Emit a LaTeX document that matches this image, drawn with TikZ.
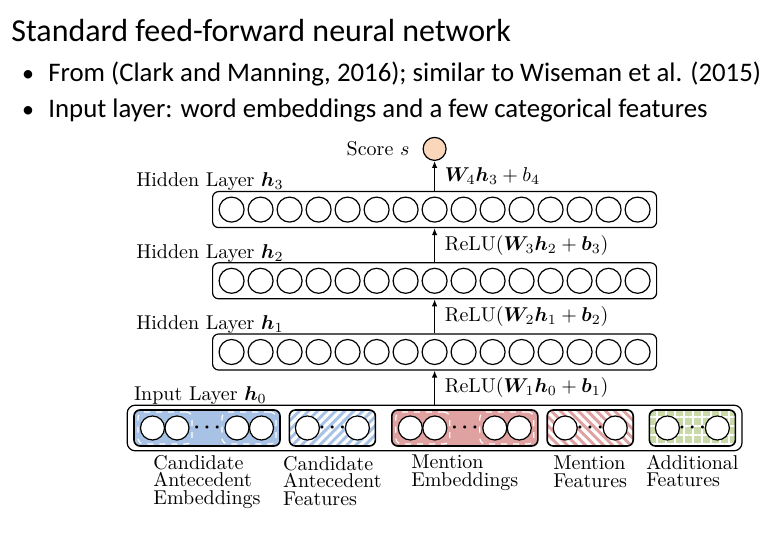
\documentclass[tikz,border=0pt]{standalone}
\usepackage{fontspec}
\usepackage{bm}
\usepackage{xcolor}
\usepackage{tikz}
\newfontfamily\slidefont{Carlito}
\definecolor{candblue}{RGB}{167, 194, 228}
\definecolor{mentred}{RGB}{224, 161, 161}
\definecolor{addgreen}{RGB}{201, 218, 168}
\definecolor{scorepeach}{RGB}{250, 214, 187}
\usetikzlibrary{arrows.meta, positioning, calc, fit, patterns.meta}

\begin{document}
\begin{tikzpicture}[x=0.5pt, y=-0.5pt,
    neuron/.style={draw, circle, line width=0.6pt, fill=white, minimum size=12.5pt, inner sep=0pt},
    inunit/.style={draw, circle, line width=0.6pt, fill=white, minimum size=12pt, inner sep=0pt},
    hiddenbox/.style={draw, rounded corners=3pt, line width=0.6pt, minimum width=222pt, minimum height=18pt, inner sep=0pt},
    inputgroup/.style={draw, rounded corners=3pt, line width=0.8pt, minimum height=18pt, inner sep=0pt},
    embgroup/.style={inputgroup, minimum width=73pt},
    featgroup/.style={inputgroup, minimum width=43pt},
    pairbox/.style={draw=white, dashed, rounded corners=3pt, line width=0.6pt, minimum width=27pt, minimum height=16pt, inner sep=0pt},
    flow/.style={-{Latex[length=3.5pt, width=2.8pt]}, line width=0.6pt},
    layerlabel/.style={anchor=base west, inner sep=0pt},
    grouplabel/.style={align=left, inner sep=0pt, font=\fontsize{10}{8.75}\selectfont},
    slidetitle/.style={anchor=base west, inner sep=0pt, font=\slidefont\fontsize{16}{19}\selectfont},
    slidepoint/.style={anchor=base west, inner sep=0pt, font=\slidefont\fontsize{13.4}{16}\selectfont},
    slidebullet/.style={anchor=base, inner sep=0pt, font=\slidefont\fontsize{12}{16}\selectfont},
  ]
    \useasboundingbox[fill=white] (0,0) rectangle (778,534);

    \node[slidetitle] (title) at (11,42) {Standard feed-forward neural network};
    \node[slidebullet] (bullet1) at (28,82) {\textbullet};
    \node[slidepoint] (point1) at (48,82) {From (Clark and Manning, 2016); similar to Wiseman et al. (2015)};
    \node[slidebullet] (bullet2) at (28,118) {\textbullet};
    \node[slidepoint] (point2) at (48,118) {Input layer: word embeddings and a few categorical features};

    % input groups
    \node[embgroup, fill=candblue] (candemb) at (207,428) {};
    \node[featgroup, right=3.5pt of candemb, preaction={fill=candblue},
          pattern={Lines[angle=45, distance=3.2pt, line width=1.6pt]}, pattern color=white] (candfeat) {};
    \node[embgroup, fill=mentred, right=7pt of candfeat] (mentemb) {};
    \node[featgroup, right=3.5pt of mentemb, preaction={fill=mentred},
          pattern={Lines[angle=-45, distance=3.2pt, line width=1.6pt]}, pattern color=white] (mentfeat) {};
    \node[featgroup, right=7pt of mentfeat, preaction={fill=addgreen},
          pattern={Hatch[angle=0, distance=4.5pt, line width=0.6pt]}, pattern color=white] (addfeat) {};

    \foreach \g in {candemb, mentemb} {
        \foreach \dx in {-21, 21}
            \node[pairbox] at ([xshift=\dx pt]\g.center) {};
        \foreach \dx in {-27.25, -15, 15, 27.25}
            \node[inunit] at ([xshift=\dx pt]\g.center) {};
        \node at (\g.center) {$\bm{\cdots}$};
    }
    \foreach \g in {candfeat, mentfeat, addfeat} {
        \foreach \dx in {-12.5, 12.5}
            \node[inunit] at ([xshift=\dx pt]\g.center) {};
        \node at (\g.center) {$\bm{\cdots}$};
    }

    \node[draw, rounded corners=4pt, line width=0.6pt, inner xsep=3pt, inner ysep=2pt,
          fit=(candemb)(addfeat)] (h0) {};

    % hidden layers
    \node[hiddenbox, above=17pt of h0] (h1) {};
    \node[hiddenbox, above=17pt of h1] (h2) {};
    \node[hiddenbox, above=17pt of h2] (h3) {};
    \foreach \l in {h1, h2, h3}
        \foreach \i in {-7,...,7}
            \node[neuron] at ([xshift={\i*14.5pt}]\l.center) {};

    \node[neuron, minimum size=11.5pt, fill=scorepeach, above=15pt of h3] (score) {};
    \node[left=3pt of score] (scorelabel) {Score $s$};

    \node[layerlabel] (h0label) at ([shift={(3.5pt,2pt)}]h0.north west) {Input Layer $\bm{h}_0$};
    \node[layerlabel] (h1label) at ([shift={(-38pt,2pt)}]h1.north west) {Hidden Layer $\bm{h}_1$};
    \node[layerlabel] (h2label) at ([shift={(-38pt,2pt)}]h2.north west) {Hidden Layer $\bm{h}_2$};
    \node[layerlabel] (h3label) at ([shift={(-38pt,2pt)}]h3.north west) {Hidden Layer $\bm{h}_3$};

    \draw[flow] (h0) -- node[midway, right=1.5pt] {ReLU($\bm{W}_1\bm{h}_0 + \bm{b}_1$)} (h1);
    \draw[flow] (h1) -- node[midway, right=1.5pt] {ReLU($\bm{W}_2\bm{h}_1 + \bm{b}_2$)} (h2);
    \draw[flow] (h2) -- node[midway, right=1.5pt] {ReLU($\bm{W}_3\bm{h}_2 + \bm{b}_3$)} (h3);
    \draw[flow] (h3) -- node[midway, right=1.5pt] {$\bm{W}_4\bm{h}_3 + b_4$} (score);

    \node[grouplabel, below=4pt of candemb] (candemblabel) {Candidate\\Antecedent\\Embeddings};
    \node[grouplabel, below=4pt of candfeat] (candfeatlabel) {Candidate\\Antecedent\\Features};
    \node[grouplabel, below=4pt of mentemb] (mentemblabel) {Mention\\Embeddings};
    \node[grouplabel, below=4pt of mentfeat] (mentfeatlabel) {Mention\\Features};
    \node[grouplabel, below=4pt of addfeat] (addfeatlabel) {Additional\\Features};
\end{tikzpicture}
\end{document}
